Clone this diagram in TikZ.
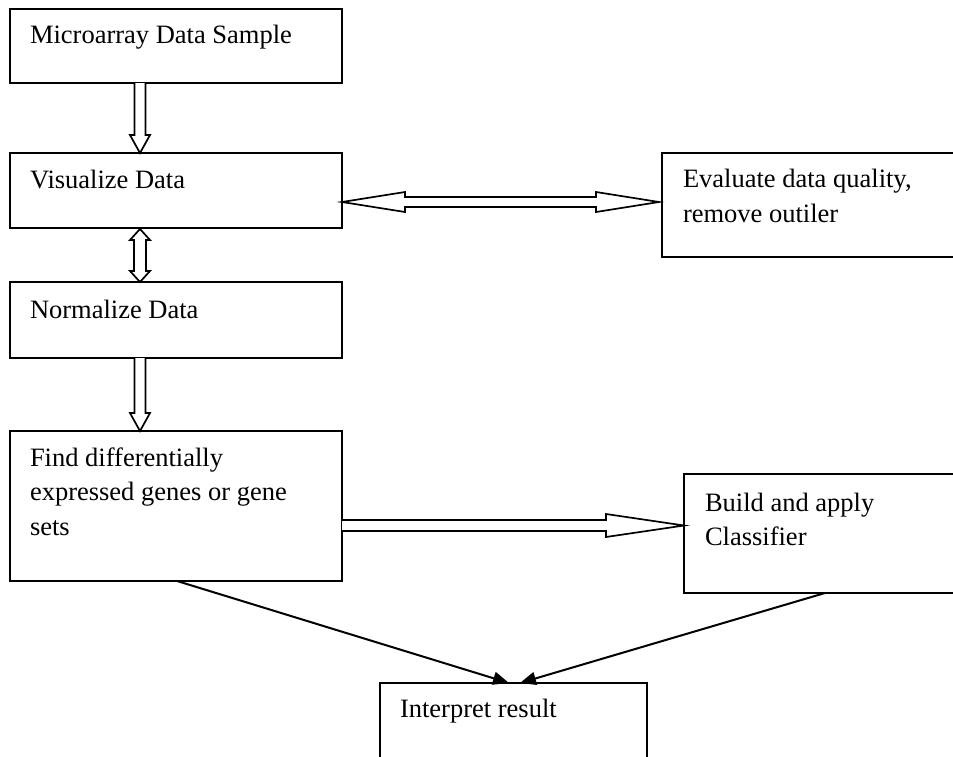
\documentclass[tikz,border=0pt]{standalone}
\usepackage{fontspec}
\setmainfont{Liberation Serif}
\usetikzlibrary{calc,arrows.meta}
\tikzset{
  box/.style={draw=black, line width=2pt, rectangle, anchor=north west, inner sep=0pt, outer sep=0pt},
  txt/.style={anchor=base west, inner sep=0pt, outer sep=0pt, font=\fontsize{26.5}{34}\selectfont},
  blk/.style={draw=black, line width=1.7pt, fill=white, line join=miter},
  conn/.style={draw=black, line width=2pt, -{Triangle[length=16pt,width=13pt]}}
}
% vertical single block arrow: start, end, shaft half, head half, head length
\newcommand\blkdown[5]{%
  \draw[blk] let \p1=(#1), \p2=(#2) in
    (\x1-#3pt,\y1) -- (\x1-#3pt,\y2+#5pt) -- (\x1-#4pt,\y2+#5pt) -- (\x2,\y2)
    -- (\x1+#4pt,\y2+#5pt) -- (\x1+#3pt,\y2+#5pt) -- (\x1+#3pt,\y1);}
\newcommand\blkvdouble[5]{%
  \draw[blk] let \p1=(#1), \p2=(#2) in
    (\x1,\y1) -- (\x1+#4pt,\y1-#5pt) -- (\x1+#3pt,\y1-#5pt) -- (\x1+#3pt,\y2+#5pt)
    -- (\x1+#4pt,\y2+#5pt) -- (\x2,\y2) -- (\x1-#4pt,\y2+#5pt) -- (\x1-#3pt,\y2+#5pt)
    -- (\x1-#3pt,\y1-#5pt) -- (\x1-#4pt,\y1-#5pt) -- cycle;}
\newcommand\blkright[5]{%
  \draw[blk] let \p1=(#1), \p2=(#2) in
    (\x1,\y1+#3pt) -- (\x2-#5pt,\y1+#3pt) -- (\x2-#5pt,\y1+#4pt) -- (\x2,\y2)
    -- (\x2-#5pt,\y1-#4pt) -- (\x2-#5pt,\y1-#3pt) -- (\x1,\y1-#3pt);}
\newcommand\blkhdouble[5]{%
  \draw[blk] let \p1=(#1), \p2=(#2) in
    (\x1,\y1) -- (\x1+#5pt,\y1+#4pt) -- (\x1+#5pt,\y1+#3pt) -- (\x2-#5pt,\y1+#3pt)
    -- (\x2-#5pt,\y1+#4pt) -- (\x2,\y2) -- (\x2-#5pt,\y1-#4pt) -- (\x2-#5pt,\y1-#3pt)
    -- (\x1+#5pt,\y1-#3pt) -- (\x1+#5pt,\y1-#4pt) -- cycle;}
\begin{document}
\begin{tikzpicture}[x=1pt,y=-1pt]
\useasboundingbox (0,0) rectangle (953,756);
\clip (0,0) rectangle (953,756);
\fill[white] (0,0) rectangle (953,756);

% boxes
\node[box, minimum width=332pt, minimum height=74pt] (b1) at (10,9) {};
\node[box, minimum width=332pt, minimum height=75pt] (b2) at (10,153) {};
\node[box, minimum width=332pt, minimum height=76pt] (b3) at (10,282) {};
\node[box, minimum width=332pt, minimum height=150pt] (b4) at (10,431) {};
\node[box, minimum width=330pt, minimum height=104pt] (ev) at (662,153) {};
\node[box, minimum width=300pt, minimum height=119pt] (bd) at (684,474) {};
\node[box, minimum width=267pt, minimum height=100pt] (ir) at (380,683) {};

% texts
\node[txt] (t1) at ($(b1.north west)+(20,34)$) {Microarray Data Sample};
\node[txt] (t2) at ($(b2.north west)+(20,35)$) {Visualize Data};
\node[txt] (t3) at ($(b3.north west)+(20,36)$) {Normalize Data};
\node[txt] (t4a) at ($(b4.north west)+(20,35)$) {Find differentially};
\node[txt] (t4b) at ($(b4.north west)+(20,69.5)$) {expressed genes or gene};
\node[txt] (t4c) at ($(b4.north west)+(20,104)$) {sets};
\node[txt] (tea) at ($(ev.north west)+(21,34)$) {Evaluate data quality,};
\node[txt] (teb) at ($(ev.north west)+(21,69)$) {remove outiler};
\node[txt] (tba) at ($(bd.north west)+(21,37)$) {Build and apply};
\node[txt] (tbb) at ($(bd.north west)+(21,71)$) {Classifier};
\node[txt] (ti) at ($(ir.north west)+(20,34)$) {Interpret result};

% block arrow end points
\coordinate (a1s) at ($(b1.south west)+(130,0)$);
\coordinate (a1e) at ($(b2.north west)+(130,0)$);
\coordinate (a2s) at ($(b2.south west)+(130,1)$);
\coordinate (a2e) at ($(b3.north west)+(130,0)$);
\coordinate (a3s) at ($(b3.south west)+(130,0)$);
\coordinate (a3e) at ($(b4.north west)+(130,0)$);
\coordinate (h1s) at ($(b2.north east)+(0,49)$);
\coordinate (h1e) at ($(ev.north west)+(-3,49)$);
\coordinate (h2s) at ($(b4.north east)+(0,94.5)$);
\coordinate (h2e) at ($(bd.north west)+(0,51.5)$);

\blkdown{a1s}{a1e}{5.5}{10}{18}
\blkvdouble{a2s}{a2e}{6}{10}{11}
\blkdown{a3s}{a3e}{5.5}{10}{18}
\blkhdouble{h1s}{h1e}{5}{10}{63}
\blkright{h2s}{h2e}{5.5}{11.5}{78}

% slanted connectors
\coordinate (l1s) at ($(b4.south west)+(167,0)$);
\coordinate (l1e) at ($(ir.north west)+(129,0)$);
\coordinate (l2s) at ($(bd.south west)+(141,0)$);
\coordinate (l2e) at ($(ir.north west)+(140,0)$);
\draw[conn] (l1s) -- (l1e);
\draw[conn] (l2s) -- (l2e);
\end{tikzpicture}
\end{document}
